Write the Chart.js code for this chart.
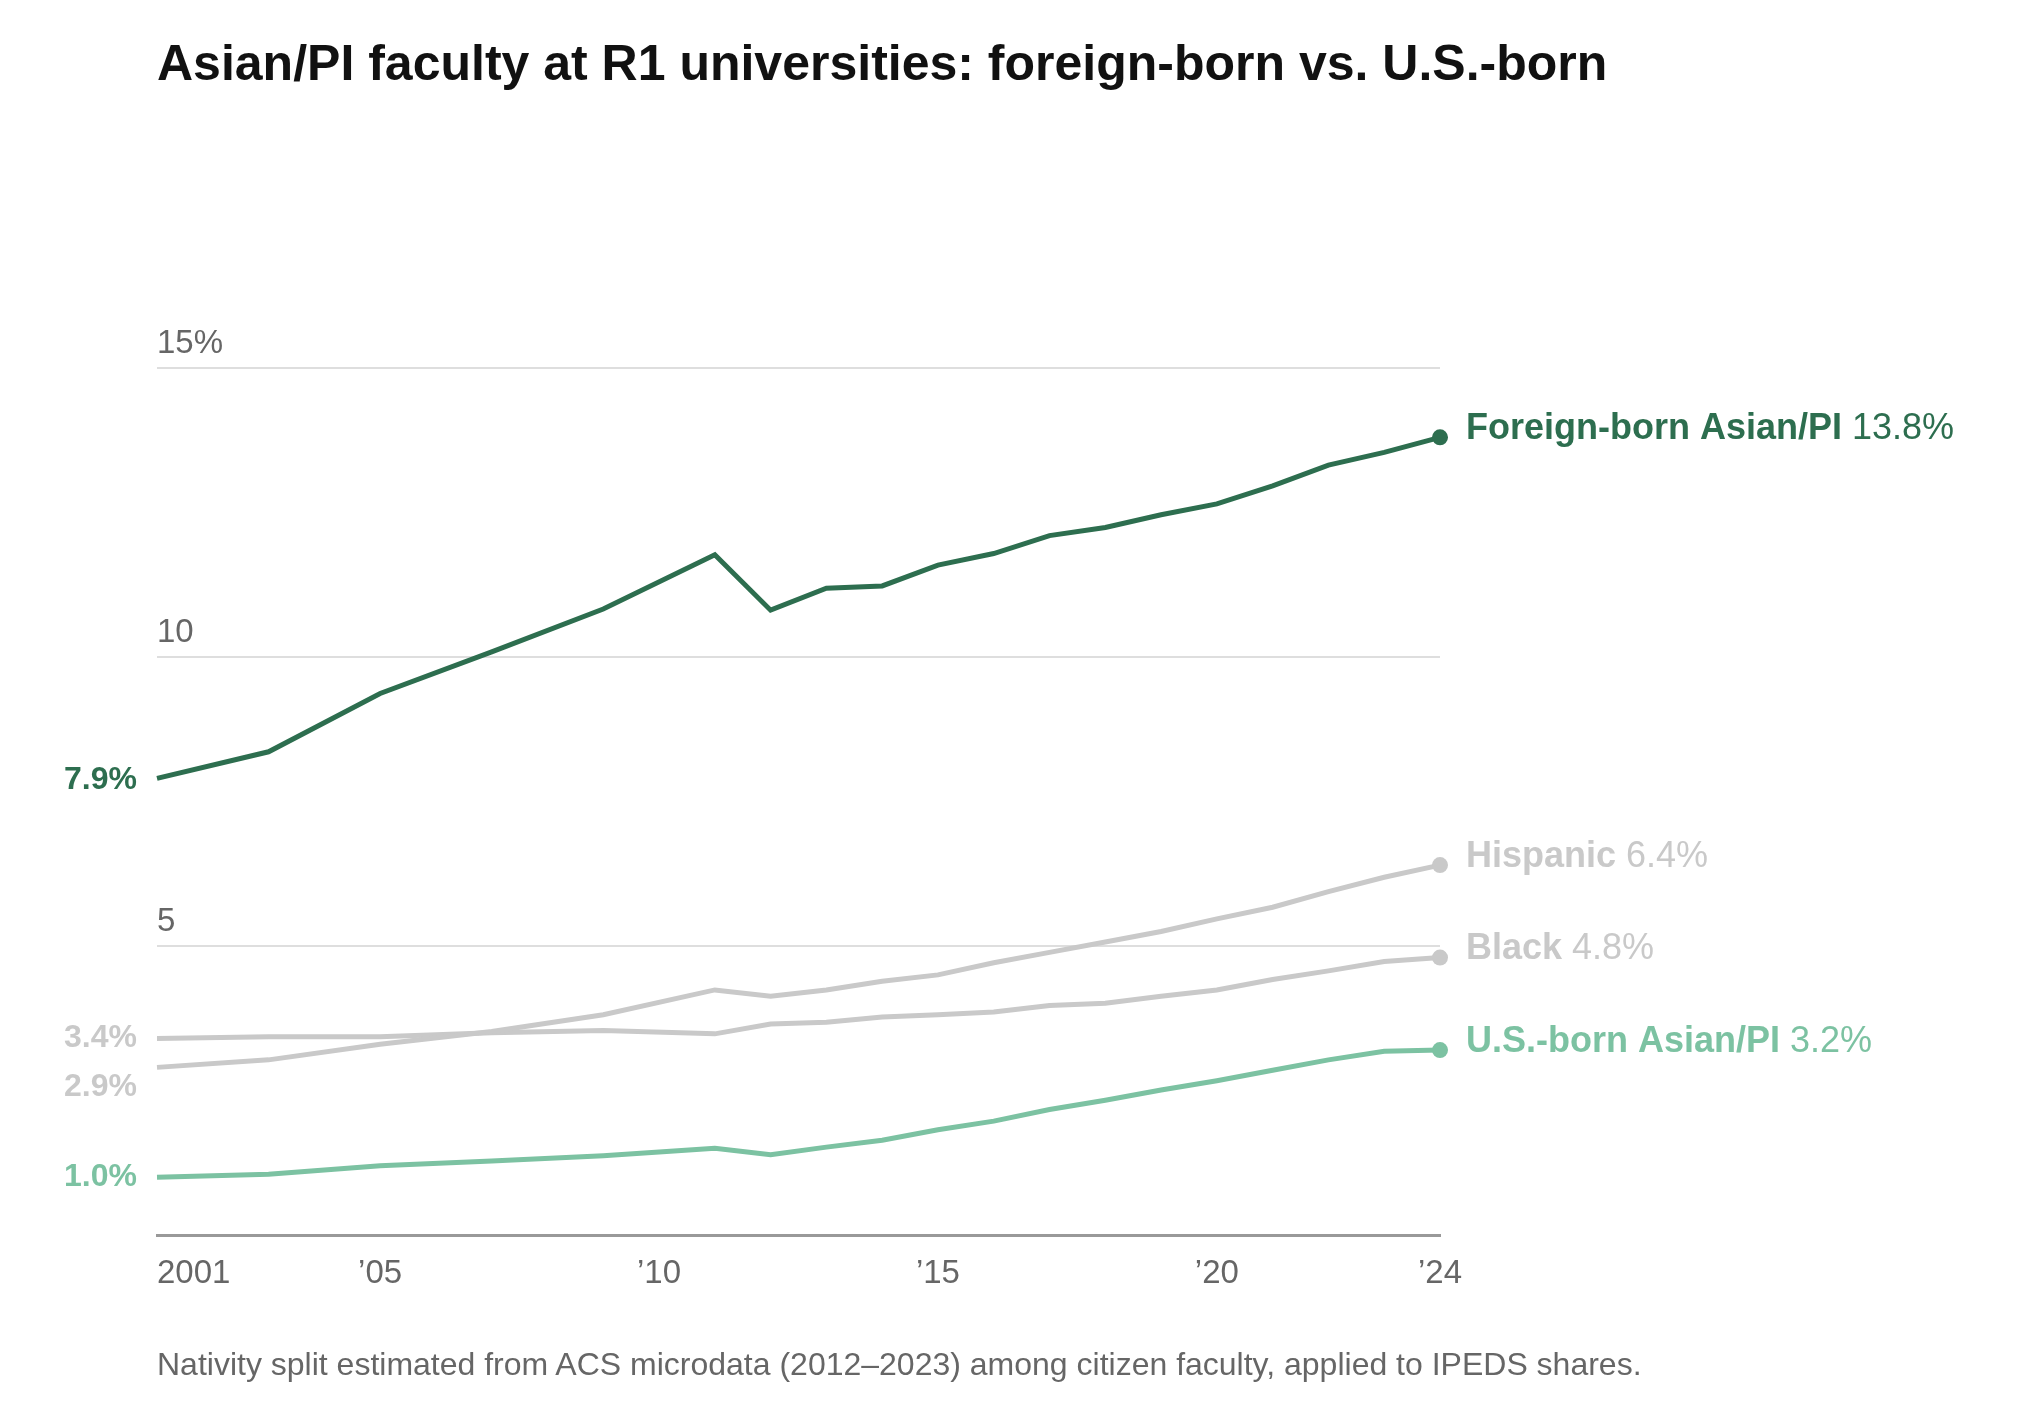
<!DOCTYPE html>
<html>
<head>
<meta charset="utf-8">
<script src="https://cdn.jsdelivr.net/npm/chart.js@4.4.0/dist/chart.umd.min.js"></script>
<style>
  body { margin: 0; background: #fff; }
  #wrap { position: relative; width: 2040px; height: 1410px; font-family: "Liberation Sans", Arial, sans-serif; }
  h1 { position: absolute; left: 157px; top: 34px; margin: 0; font-size: 50px; font-weight: bold; color: #111; }
  #note { position: absolute; left: 157px; top: 1346px; font-size: 32px; color: #666; }
  canvas { position: absolute; left: 0; top: 0; }
</style>
</head>
<body>
<div id="wrap">
  <canvas id="chart" width="2040" height="1410"></canvas>
  <h1>Asian/PI faculty at R1 universities: foreign-born vs. U.S.-born</h1>
  <div id="note">Nativity split estimated from ACS microdata (2012–2023) among citizen faculty, applied to IPEDS shares.</div>
</div>
<script>
// years with data points
const years = [2001, 2003, 2005, 2007, 2009, 2011, 2012, 2013, 2014, 2015, 2016, 2017, 2018, 2019, 2020, 2021, 2022, 2023, 2024];
const foreignBorn = [7.9, 8.36, 9.37, 10.09, 10.83, 11.77, 10.81, 11.19, 11.23, 11.59, 11.79, 12.1, 12.24, 12.46, 12.65, 12.96, 13.32, 13.54, 13.8];
const hispanic = [2.9, 3.03, 3.3, 3.52, 3.81, 4.24, 4.13, 4.24, 4.39, 4.5, 4.71, 4.89, 5.07, 5.25, 5.47, 5.67, 5.94, 6.19, 6.4];
const black = [3.4, 3.43, 3.43, 3.5, 3.54, 3.48, 3.65, 3.68, 3.77, 3.81, 3.86, 3.97, 4.01, 4.13, 4.24, 4.42, 4.57, 4.73, 4.8];
const usBorn = [1.0, 1.05, 1.2, 1.28, 1.37, 1.5, 1.39, 1.52, 1.64, 1.82, 1.97, 2.17, 2.33, 2.51, 2.67, 2.85, 3.03, 3.18, 3.2];
const xTicks = [2001, 2005, 2010, 2015, 2020, 2024];
const xTickLabels = ['2001', '’05', '’10', '’15', '’20', '’24'];
const yTicks = [5, 10, 15];
const yTickLabels = ['5', '10', '15%'];

const DARK = '#2d6e4f', LIGHT = '#7cc2a2', GRAY = '#c9c9c9';

const series = [
    { name: 'Hispanic', data: hispanic, color: GRAY },
    { name: 'Black', data: black, color: GRAY },
    { name: 'U.S.-born Asian/PI', data: usBorn, color: LIGHT },
    { name: 'Foreign-born Asian/PI', data: foreignBorn, color: DARK }
];

function pts(arr) {
    return years.map((y, i) => ({ x: y, y: arr[i] }));
}

const labelsPlugin = {
    id: 'labels',
    afterDraw(chart) {
        const ctx = chart.ctx;
        const xs = chart.scales.x, ys = chart.scales.y;
        ctx.save();
        ctx.font = '33px "Liberation Sans", Arial, sans-serif';
        ctx.fillStyle = '#666';
        // y tick labels above gridlines
        ctx.textAlign = 'left';
        ctx.textBaseline = 'bottom';
        yTicks.forEach((v, i) => ctx.fillText(yTickLabels[i], chart.chartArea.left, ys.getPixelForValue(v) - 8));
        // x tick labels
        ctx.textBaseline = 'top';
        xTicks.forEach((v, i) => {
            ctx.textAlign = i === 0 ? 'left' : 'center';
            ctx.fillText(xTickLabels[i], xs.getPixelForValue(v), chart.chartArea.bottom + 22);
        });
        // start labels
        ctx.font = 'bold 32px "Liberation Sans", Arial, sans-serif';
        ctx.textAlign = 'right';
        ctx.textBaseline = 'middle';
        const lx = chart.chartArea.left - 20;
        ctx.fillStyle = DARK;
        ctx.fillText('7.9%', lx, ys.getPixelForValue(foreignBorn[0]) + 2);
        ctx.fillStyle = GRAY;
        ctx.fillText('3.4%', lx, ys.getPixelForValue(black[0]));
        ctx.fillText('2.9%', lx, ys.getPixelForValue(hispanic[0]) + 20);
        ctx.fillStyle = LIGHT;
        ctx.fillText('1.0%', lx, ys.getPixelForValue(usBorn[0]));
        // end labels
        ctx.textAlign = 'left';
        const ex = xs.getPixelForValue(2024) + 26;
        series.forEach(s => {
            const last = s.data[s.data.length - 1];
            const y = ys.getPixelForValue(last) - 8;
            ctx.fillStyle = s.color;
            ctx.font = 'bold 36px "Liberation Sans", Arial, sans-serif';
            ctx.fillText(s.name, ex, y);
            const w = ctx.measureText(s.name + ' ').width;
            ctx.font = '36px "Liberation Sans", Arial, sans-serif';
            ctx.fillText(last.toFixed(1) + '%', ex + w, y);
        });
        ctx.restore();
    }
};

new Chart(document.getElementById('chart').getContext('2d'), {
    type: 'line',
    data: {
        datasets: series.map(s => ({
            label: s.name,
            data: pts(s.data),
            borderColor: s.color,
            backgroundColor: s.color,
            borderWidth: 5,
            tension: 0,
            clip: false,
            pointRadius: ctx => ctx.dataIndex === years.length - 1 ? 8 : 0,
            pointBorderWidth: 0
        }))
    },
    options: {
        responsive: false,
        devicePixelRatio: 1,
        animation: false,
        layout: { padding: { left: 157, right: 600, top: 368, bottom: 167 } },
        plugins: { legend: { display: false }, tooltip: { enabled: false } },
        scales: {
            x: {
                type: 'linear', min: 2001, max: 2024,
                grid: { display: false },
                border: { display: true, color: '#999', width: 3 },
                ticks: { display: false }
            },
            y: {
                min: 0, max: 15,
                grid: { color: '#dedede', lineWidth: 2, drawTicks: false },
                border: { display: false },
                ticks: { display: false, stepSize: 5 }
            }
        }
    },
    plugins: [labelsPlugin]
});
</script>
</body>
</html>
